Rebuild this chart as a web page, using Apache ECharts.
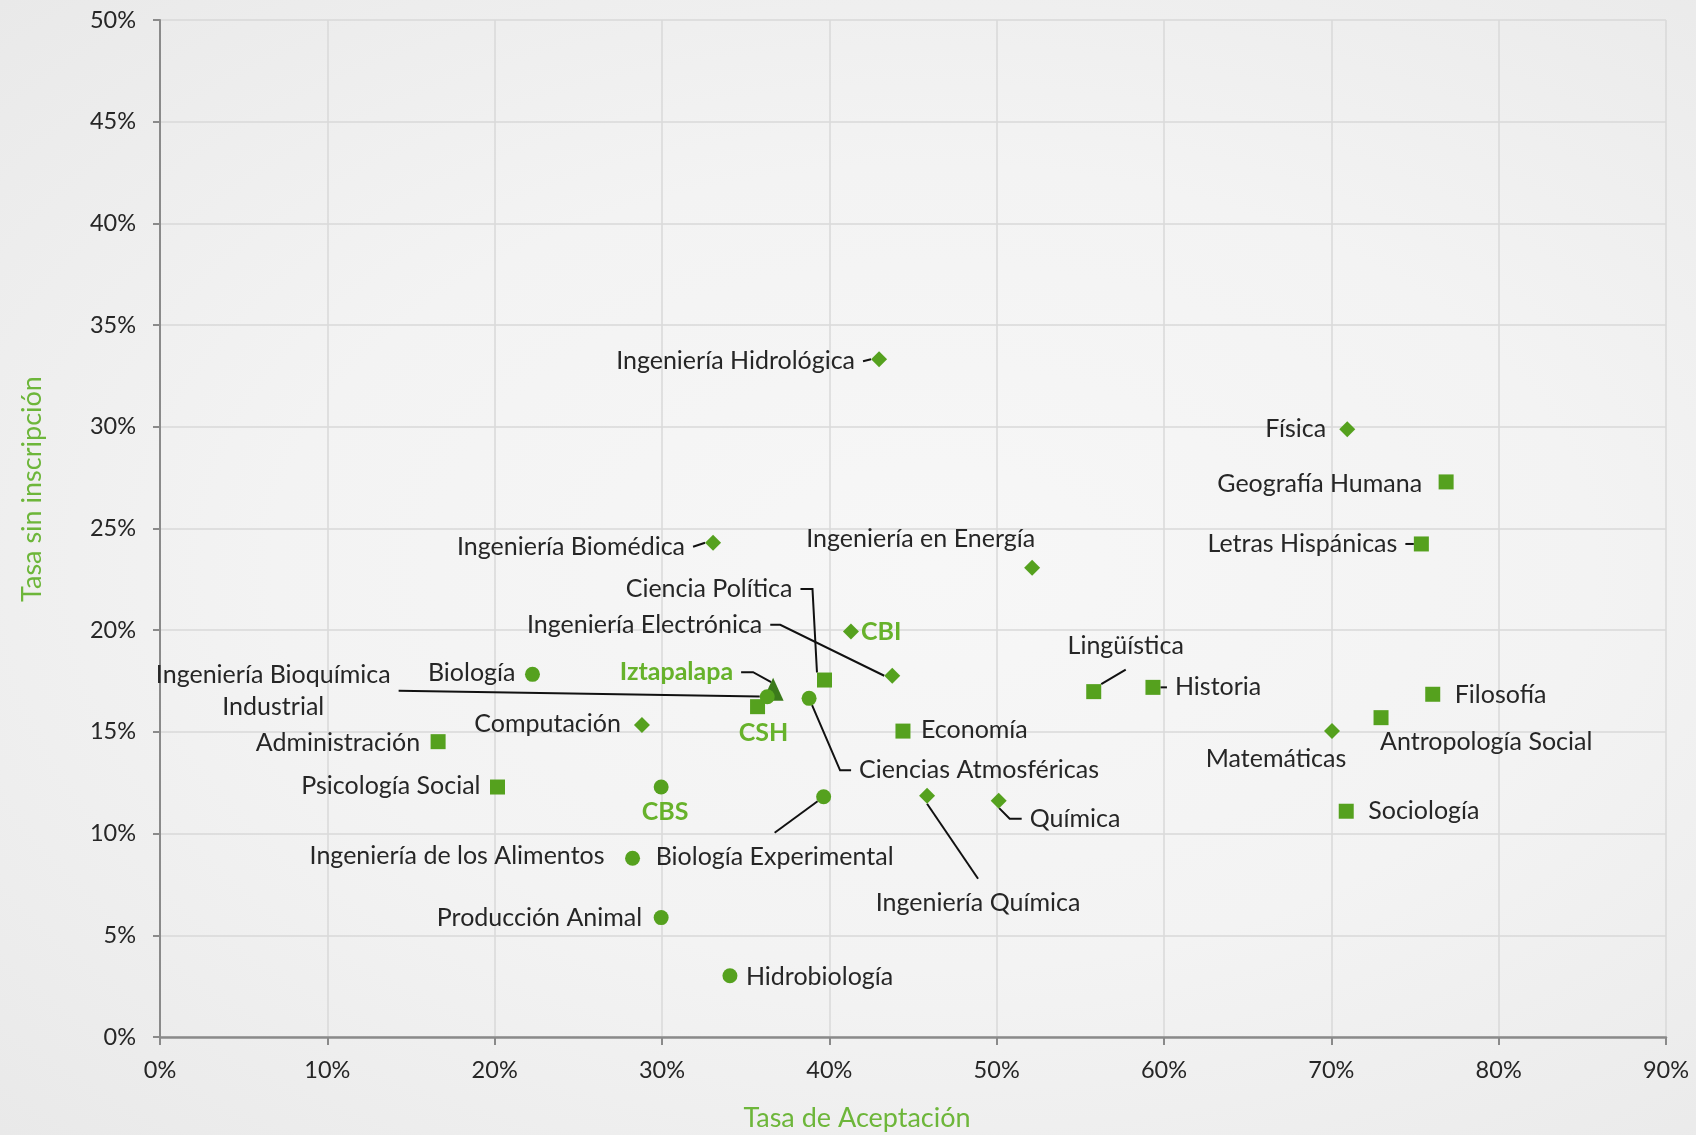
<!DOCTYPE html>
<html>
<head>
<meta charset="utf-8">
<title>Tasa de aceptación vs tasa sin inscripción</title>
<script src="https://cdn.jsdelivr.net/npm/echarts@6/dist/echarts.min.js"></script>
<style>
  html, body { margin: 0; padding: 0; }
  body { background: radial-gradient(ellipse at 55% 50%, #f7f7f7 0%, #f3f3f3 50%, #e9e9e9 100%); }
  #chart { width: 1696px; height: 1135px; }
</style>
</head>
<body>
<div id="chart"></div>
<script>
// CBI (rombos)
const cbiNames = ['Ingeniería Hidrológica', 'Física', 'Ingeniería Biomédica', 'Ingeniería en Energía', 'CBI',
  'Ingeniería Electrónica', 'Computación', 'Matemáticas', 'Ingeniería Química', 'Química'];
const cbiAceptacion = [42.97, 70.95, 33.05, 52.12, 41.29, 43.76, 28.80, 70.04, 45.84, 50.12];
const cbiSinInscripcion = [33.32, 29.88, 24.30, 23.07, 19.93, 17.76, 15.34, 15.04, 11.86, 11.62];

// CSH (cuadros)
const cshNames = ['Geografía Humana', 'Letras Hispánicas', 'Ciencia Política', 'Historia', 'Lingüística', 'Filosofía',
  'CSH', 'Antropología Social', 'Economía', 'Administración', 'Psicología Social', 'Sociología'];
const cshAceptacion = [76.86, 75.38, 39.71, 59.34, 55.80, 76.06, 35.71, 72.97, 44.40, 16.62, 20.17, 70.89];
const cshSinInscripcion = [27.29, 24.24, 17.55, 17.19, 16.98, 16.85, 16.24, 15.70, 15.04, 14.52, 12.29, 11.10];

// CBS (círculos)
const cbsNames = ['Biología', 'Ingeniería Bioquímica Industrial', 'Ciencias Atmosféricas', 'CBS', 'Biología Experimental',
  'Ingeniería de los Alimentos', 'Producción Animal', 'Hidrobiología'];
const cbsAceptacion = [22.26, 36.29, 38.79, 29.95, 39.66, 28.24, 29.95, 34.06];
const cbsSinInscripcion = [17.83, 16.73, 16.65, 12.29, 11.81, 8.79, 5.87, 3.01];

// Unidad
const iztNames = ['Iztapalapa'];
const iztAceptacion = [36.64];
const iztSinInscripcion = [17.10];

const unitNames = ['CBI', 'CSH', 'CBS', 'Iztapalapa'];

// [align, dx, dy, línea guía, length2]
const labelPlacement = {
  'Ingeniería Hidrológica': ['right', -24, 2, true, 0],
  'Física': ['right', -21, 0, false],
  'Ingeniería Biomédica': ['right', -28, 4, true, 0],
  'Ingeniería en Energía': ['right', 3, -29, false],
  'CBI': ['left', 10, 0, false],
  'Ingeniería Electrónica': ['right', -130, -51, true, 10],
  'Computación': ['right', -21, -1, false],
  'Matemáticas': ['center', -56, 28, false],
  'Ingeniería Química': ['center', 51, 107, true, 0],
  'Química': ['left', 31, 18, true, 12],
  'Geografía Humana': ['right', -24, 2, false],
  'Letras Hispánicas': ['right', -24, 0, true, 0],
  'Ciencia Política': ['right', -32, -91, true, 12],
  'Historia': ['left', 22, 0, true, 0],
  'Lingüística': ['center', 32, -46, true, 0],
  'Filosofía': ['left', 22, 1, false],
  'CSH': ['center', 6, 26, false],
  'Antropología Social': ['left', -1, 24, false],
  'Economía': ['left', 18, -1, false],
  'Administración': ['right', -18, 1, false],
  'Psicología Social': ['right', -17, -1, false],
  'Sociología': ['left', 22, 0, false],
  'Biología': ['right', -17, -1, false],
  'Ingeniería Bioquímica Industrial': ['center', -494, -6, true, 0],
  'Ciencias Atmosféricas': ['left', 50, 72, true, 11],
  'CBS': ['center', 4, 25, false],
  'Biología Experimental': ['center', -49, 60, true, 0],
  'Ingeniería de los Alimentos': ['right', -28, -2, false],
  'Producción Animal': ['right', -19, 0, false],
  'Hidrobiología': ['left', 16, 1, false],
  'Iztapalapa': ['right', -40, -17, true, 12]
};

const FONT = 'Lato, "Open Sans", sans-serif';
const MARK_GREEN = '#55A11E';
const UNIT_GREEN = '#67B22B';
const TITLE_GREEN = '#6DB63A';
const LINE_PAD = 8;

const chart = echarts.init(document.getElementById('chart'), null, { renderer: 'canvas' });

function makeSeries(names, xs, ys, symbol, size, color, z) {
  return {
    type: 'scatter',
    symbol: symbol,
    symbolSize: size,
    z: z,
    itemStyle: { color: color, opacity: 1 },
    emphasis: { disabled: true },
    label: {
      show: true,
      fontFamily: FONT,
      fontSize: 25,
      lineHeight: 32,
      color: '#262626',
      formatter: p => p.name.replace('Bioquímica ', 'Bioquímica\n')
    },
    labelLine: {
      show: false,
      lineStyle: { color: '#111', width: 2 }
    },
    labelLayout: function (p) {
      const pl = labelPlacement[names[p.dataIndex]];
      const cx = p.rect.x + p.rect.width / 2;
      const cy = p.rect.y + p.rect.height / 2;
      const pad = pl[3] ? LINE_PAD : 0;
      const shift = pl[0] === 'right' ? pad : (pl[0] === 'left' ? -pad : 0);
      return { x: cx + pl[1] + shift, y: cy + pl[2], align: pl[0], verticalAlign: 'middle' };
    },
    data: names.map((n, i) => {
      const pl = labelPlacement[n];
      const item = { name: n, value: [xs[i], ys[i]] };
      const label = {};
      if (unitNames.indexOf(n) >= 0) {
        label.color = UNIT_GREEN;
        label.fontWeight = 'bold';
      }
      if (pl[3]) {
        label.padding = LINE_PAD;
        label.backgroundColor = 'rgba(0,0,0,0)';
        item.labelLine = { show: true, length2: pl[4] };
      }
      item.label = label;
      return item;
    })
  };
}

chart.setOption({
  animation: false,
  backgroundColor: 'transparent',
  grid: {
    left: 160,
    right: 30,
    top: 20,
    bottom: 98,
    containLabel: false,
    outerBoundsMode: 'none'
  },
  xAxis: {
    type: 'value',
    min: 0,
    max: 90,
    interval: 10,
    name: 'Tasa de Aceptación',
    nameLocation: 'middle',
    nameGap: 68,
    nameTextStyle: {
      fontFamily: FONT,
      fontSize: 27,
      color: TITLE_GREEN,
      padding: [0, 112, 0, 0]
    },
    axisLine: { show: true, lineStyle: { color: '#8a8a8a', width: 2.5 } },
    axisTick: { show: true, length: 8, lineStyle: { color: '#8a8a8a', width: 2 } },
    axisLabel: {
      formatter: '{value}%',
      fontFamily: FONT,
      fontSize: 23.5,
      color: '#262626',
      margin: 21
    },
    splitLine: { show: true, lineStyle: { color: '#d9d9d9', width: 1.5 } }
  },
  yAxis: {
    type: 'value',
    min: 0,
    max: 50,
    interval: 5,
    name: 'Tasa sin inscripción',
    nameLocation: 'middle',
    nameGap: 114,
    nameTextStyle: {
      fontFamily: FONT,
      fontSize: 27,
      color: TITLE_GREEN,
      padding: [0, 0, 0, 79]
    },
    axisLine: { show: true, lineStyle: { color: '#8a8a8a', width: 2 } },
    axisTick: { show: true, length: 7, lineStyle: { color: '#8a8a8a', width: 2 } },
    axisLabel: {
      formatter: '{value}%',
      fontFamily: FONT,
      fontSize: 23.5,
      color: '#262626',
      margin: 24
    },
    splitLine: { show: true, lineStyle: { color: '#d9d9d9', width: 1.5 } }
  },
  series: [
    makeSeries(cbiNames, cbiAceptacion, cbiSinInscripcion, 'diamond', 16, MARK_GREEN, 3),
    makeSeries(cshNames, cshAceptacion, cshSinInscripcion, 'rect', 15, MARK_GREEN, 3),
    makeSeries(iztNames, iztAceptacion, iztSinInscripcion, 'triangle', [21, 23], '#3B7A1B', 4),
    makeSeries(cbsNames, cbsAceptacion, cbsSinInscripcion, 'circle', 15, MARK_GREEN, 5)
  ]
});
</script>
</body>
</html>
